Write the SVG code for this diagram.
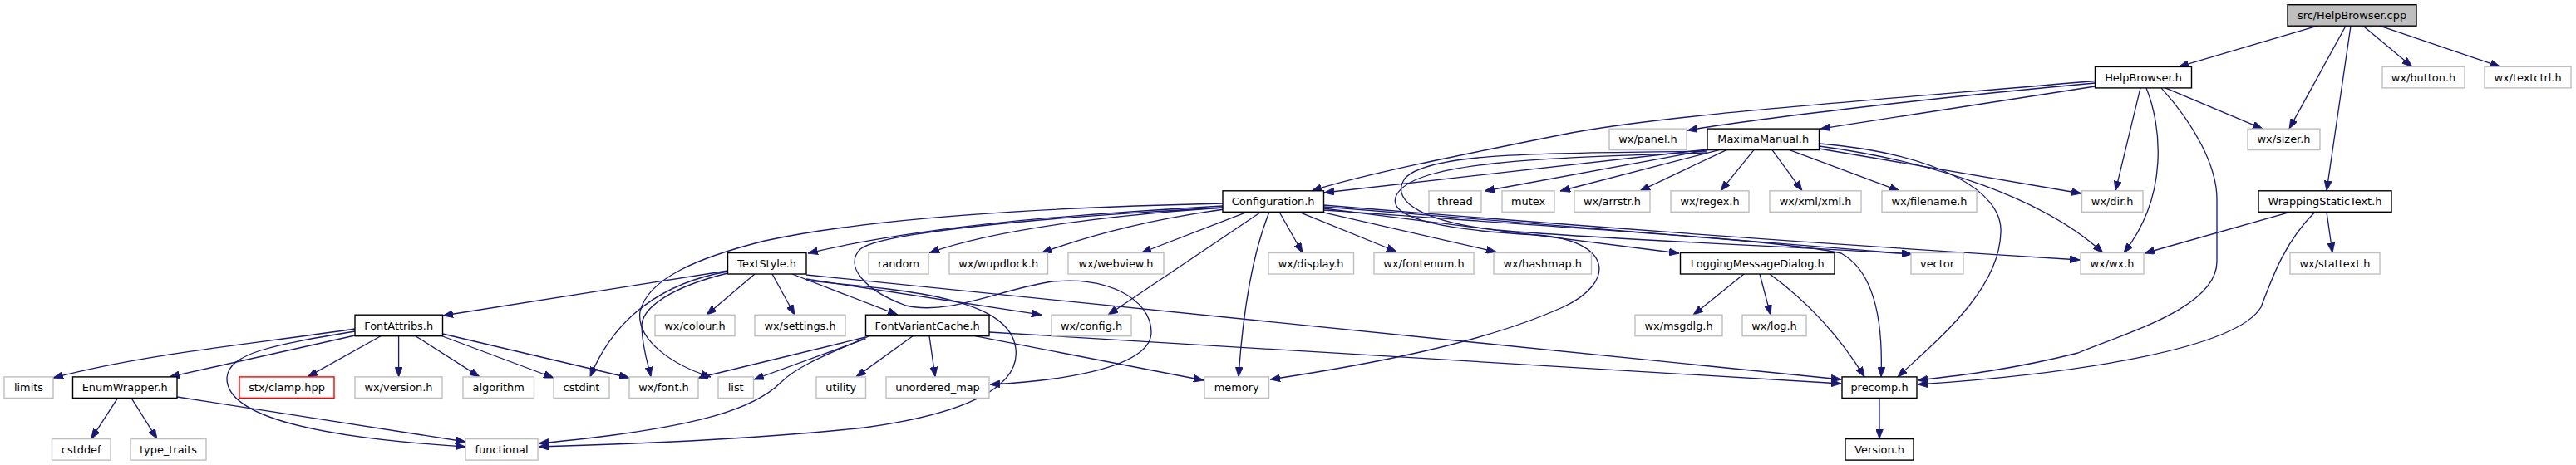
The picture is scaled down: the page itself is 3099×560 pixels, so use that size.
<svg xmlns="http://www.w3.org/2000/svg" width="3099" height="560" viewBox="0 0 3099 560">
<style>
.n rect{fill:#fff;stroke-width:1.4}
.doc rect{stroke:#000}
.ext rect{stroke:#bfbfbf}
.red rect{stroke:#ff0000}
.root rect{fill:#bfbfbf;stroke:#000}
.n text{font-family:"DejaVu Sans",sans-serif;font-size:12.9px;fill:#000;text-anchor:middle}
#edges path{fill:none;stroke:#191970;stroke-width:1.3;marker-end:url(#ah)}
</style>
<defs>
<marker id="ah" viewBox="0 0 12 9" refX="12" refY="4.5" markerWidth="12" markerHeight="9" markerUnits="userSpaceOnUse" orient="auto">
<path d="M0,0 L12,4.5 L0,9 z" fill="#191970" stroke="#191970" stroke-width="0.8"/>
</marker>
</defs>
<rect width="3099" height="560" fill="#fff"/>
<g id="edges">
<path d="M2788,31.2 L2621,80.4"/>
<path d="M2822,31.2 L2754,155.1"/>
<path d="M2828,31.2 L2799,229.8"/>
<path d="M2843,31.2 L2902,80.4"/>
<path d="M2863,31.2 L3008,80.4"/>
<path d="M2605,105.9 L2722,155.1"/>
<path d="M2575,105.9 L2545,229.8"/>
<path d="M2582,105.9 C2600,150 2610,235 2555,304.5"/>
<path d="M2600,105.9 C2640,150 2667,200 2667,240 L2667,315 C2667,370 2560,400 2500,425 C2420,445 2360,452 2307,458"/>
<path d="M2520.5,104 L2190,155.1"/>
<path d="M2520.5,100 C2300,120 2100,145 2030,157"/>
<path d="M2520.5,97.5 C2200,125 1990,140 1880,162 C1760,186 1640,210 1578,229.8"/>
<path d="M2110,180.6 L2070,229.8"/>
<path d="M2132,180.6 L2168,229.8"/>
<path d="M2153,180.6 L2285,229.8"/>
<path d="M2188.5,179 L2504,233"/>
<path d="M2188.5,176 C2330,195 2460,240 2530,304.5"/>
<path d="M2188.5,173 C2330,185 2410,230 2407,280 C2405,350 2330,410 2283,453.9"/>
<path d="M2054,180 L1593,232"/>
<path d="M2054,180.6 L1786,230"/>
<path d="M2068,180.6 L1877,230"/>
<path d="M2077,180.6 L1973,229.8"/>
<path d="M2054,182 C1900,185 1720,180 1690,215 C1670,245 1720,268 1800,277 C1950,290 2150,296 2300,306"/>
<path d="M2054,184 C1850,190 1700,195 1680,235 C1665,265 1750,278 1850,283 C1940,290 1945,340 1880,370 C1780,415 1640,440 1528,457"/>
<path d="M1471,248 C1300,258 1120,270 972,305"/>
<path d="M1471,245 C1250,250 1050,262 920,290 C840,310 780,335 770,375 C765,410 810,440 855,454"/>
<path d="M1471,250 C1250,262 1060,280 1035,300 C1015,320 1040,350 1090,368 C1140,380 1200,350 1260,340 C1330,330 1385,360 1385,400 C1385,440 1290,458 1191,463"/>
<path d="M1473,250 C1350,258 1200,275 1118,304.5"/>
<path d="M1473,252 C1400,262 1320,280 1253,304.5"/>
<path d="M1500,255.3 L1373,304.5"/>
<path d="M1517,255.3 L1333,379.2"/>
<path d="M1527,255.3 C1505,310 1495,380 1490,453.9"/>
<path d="M1539,255.3 L1567,304.5"/>
<path d="M1563,255.3 L1680,303"/>
<path d="M1590,255.3 L1800,303.5"/>
<path d="M1592.5,251 L2020,305"/>
<path d="M1592.5,249 L2300,306"/>
<path d="M1592.5,247 Q2050,285 2502,313"/>
<path d="M1592.5,253 C1900,275 2150,290 2215,305 C2260,330 2265,400 2263,453.9"/>
<path d="M2098,330 L2037,379.2"/>
<path d="M2117,330 L2130,379.2"/>
<path d="M2129,330 C2170,360 2210,400 2243,453.9"/>
<path d="M2799,255.3 L2806,304.5"/>
<path d="M2755,255.3 L2580,305"/>
<path d="M2785,255.3 C2750,290 2735,330 2720,370 C2690,420 2500,450 2307,463"/>
<path d="M875.5,326 L533,380"/>
<path d="M908,330 L850,379.2"/>
<path d="M929,330 L956,379.2"/>
<path d="M953,330 L1080,379.2"/>
<path d="M875.5,327 C800,340 740,380 710,453.9"/>
<path d="M875.5,329 C810,345 770,370 772,395 C773,420 780,440 783,453.9"/>
<path d="M970,336 L1253,379.2"/>
<path d="M970,331 L2215,457"/>
<path d="M970,338 C1100,350 1215,360 1222,420 C1228,470 1150,500 1040,515 C900,530 750,535 648,538"/>
<path d="M1098,404.7 L1030,453.9"/>
<path d="M1118,404.7 L1125,453.9"/>
<path d="M1173,404.7 L1448,458"/>
<path d="M1190,400 L2215,462"/>
<path d="M1041.5,406 L840,455"/>
<path d="M1041.5,408 L907,457"/>
<path d="M1045,405 C1000,425 960,440 940,460 C910,490 850,515 648,534"/>
<path d="M427,396 C300,415 180,425 64,455"/>
<path d="M427,404 L204,453.9"/>
<path d="M427,399 C330,415 275,425 273,455 C272,495 350,525 560,538"/>
<path d="M458,404.7 L370,453.9"/>
<path d="M479.6,404.7 L479.6,453.9"/>
<path d="M500,404.7 L577,453.9"/>
<path d="M532.5,405 L666,455"/>
<path d="M532.5,402 L757,455"/>
<path d="M141.6,479.3 L109.7,528.6"/>
<path d="M158,479.3 L189,528.6"/>
<path d="M213,478 L560,532"/>
<path d="M2261,479.3 L2261,528.6"/>
</g>
<g id="root" class="n root"><rect x="2752" y="5.7" width="155" height="25.5"/><text x="2829.5" y="23">src/HelpBrowser.cpp</text></g>
<g id="n_hb" class="n doc"><rect x="2520.5" y="80.4" width="116" height="25.5"/><text x="2578.5" y="97.7">HelpBrowser.h</text></g>
<g id="n_button" class="n ext"><rect x="2866" y="80.4" width="99" height="25.5"/><text x="2915.5" y="97.7">wx/button.h</text></g>
<g id="n_textctrl" class="n ext"><rect x="2989" y="80.4" width="104" height="25.5"/><text x="3041" y="97.7">wx/textctrl.h</text></g>
<g id="n_panel" class="n ext"><rect x="1936" y="155.1" width="93" height="25.5"/><text x="1982.5" y="172.4">wx/panel.h</text></g>
<g id="n_mm" class="n doc"><rect x="2054" y="155.1" width="134.5" height="25.5"/><text x="2121.2" y="172.4">MaximaManual.h</text></g>
<g id="n_sizer" class="n ext"><rect x="2704" y="155.1" width="87" height="25.5"/><text x="2747.5" y="172.4">wx/sizer.h</text></g>
<g id="n_config" class="n doc"><rect x="1471" y="229.8" width="121.5" height="25.5"/><text x="1531.7" y="247.1">Configuration.h</text></g>
<g id="n_thread" class="n ext"><rect x="1719" y="229.8" width="63" height="25.5"/><text x="1750.5" y="247.1">thread</text></g>
<g id="n_mutex" class="n ext"><rect x="1807" y="229.8" width="63" height="25.5"/><text x="1838.5" y="247.1">mutex</text></g>
<g id="n_arrstr" class="n ext"><rect x="1894" y="229.8" width="91" height="25.5"/><text x="1939.5" y="247.1">wx/arrstr.h</text></g>
<g id="n_regex" class="n ext"><rect x="2010" y="229.8" width="94" height="25.5"/><text x="2057" y="247.1">wx/regex.h</text></g>
<g id="n_xml" class="n ext"><rect x="2129" y="229.8" width="110" height="25.5"/><text x="2184" y="247.1">wx/xml/xml.h</text></g>
<g id="n_filename" class="n ext"><rect x="2264" y="229.8" width="114" height="25.5"/><text x="2321" y="247.1">wx/filename.h</text></g>
<g id="n_dir" class="n ext"><rect x="2504.5" y="229.8" width="73.5" height="25.5"/><text x="2541.2" y="247.1">wx/dir.h</text></g>
<g id="n_wst" class="n doc"><rect x="2717" y="229.8" width="160" height="25.5"/><text x="2797" y="247.1">WrappingStaticText.h</text></g>
<g id="n_textstyle" class="n doc"><rect x="875.5" y="304.5" width="94.5" height="25.5"/><text x="922.7" y="321.8">TextStyle.h</text></g>
<g id="n_random" class="n ext"><rect x="1045" y="304.5" width="72" height="25.5"/><text x="1081" y="321.8">random</text></g>
<g id="n_wupdlock" class="n ext"><rect x="1142" y="304.5" width="118.5" height="25.5"/><text x="1201.2" y="321.8">wx/wupdlock.h</text></g>
<g id="n_webview" class="n ext"><rect x="1285" y="304.5" width="115" height="25.5"/><text x="1342.5" y="321.8">wx/webview.h</text></g>
<g id="n_display" class="n ext"><rect x="1526" y="304.5" width="102.5" height="25.5"/><text x="1577.2" y="321.8">wx/display.h</text></g>
<g id="n_fontenum" class="n ext"><rect x="1653" y="304.5" width="120" height="25.5"/><text x="1713" y="321.8">wx/fontenum.h</text></g>
<g id="n_hashmap" class="n ext"><rect x="1797" y="304.5" width="117.5" height="25.5"/><text x="1855.7" y="321.8">wx/hashmap.h</text></g>
<g id="n_lmd" class="n doc"><rect x="2021.5" y="304.5" width="185.5" height="25.5"/><text x="2114.2" y="321.8">LoggingMessageDialog.h</text></g>
<g id="n_vector" class="n ext"><rect x="2299" y="304.5" width="63" height="25.5"/><text x="2330.5" y="321.8">vector</text></g>
<g id="n_wx" class="n ext"><rect x="2503" y="304.5" width="76" height="25.5"/><text x="2541" y="321.8">wx/wx.h</text></g>
<g id="n_stattext" class="n ext"><rect x="2755" y="304.5" width="108" height="25.5"/><text x="2809" y="321.8">wx/stattext.h</text></g>
<g id="n_fontattribs" class="n doc"><rect x="427" y="379.2" width="105.5" height="25.5"/><text x="479.7" y="396.5">FontAttribs.h</text></g>
<g id="n_colour" class="n ext"><rect x="788" y="379.2" width="96" height="25.5"/><text x="836" y="396.5">wx/colour.h</text></g>
<g id="n_settings" class="n ext"><rect x="908" y="379.2" width="109" height="25.5"/><text x="962.5" y="396.5">wx/settings.h</text></g>
<g id="n_fvc" class="n doc"><rect x="1041.5" y="379.2" width="148.5" height="25.5"/><text x="1115.7" y="396.5">FontVariantCache.h</text></g>
<g id="n_wxconfig" class="n ext"><rect x="1265" y="379.2" width="96" height="25.5"/><text x="1313" y="396.5">wx/config.h</text></g>
<g id="n_msgdlg" class="n ext"><rect x="1967" y="379.2" width="105" height="25.5"/><text x="2019.5" y="396.5">wx/msgdlg.h</text></g>
<g id="n_log" class="n ext"><rect x="2096" y="379.2" width="77" height="25.5"/><text x="2134.5" y="396.5">wx/log.h</text></g>
<g id="n_limits" class="n ext"><rect x="5" y="453.9" width="59" height="25.5"/><text x="34.5" y="471.2">limits</text></g>
<g id="n_enum" class="n doc"><rect x="87.5" y="453.9" width="125.5" height="25.5"/><text x="150.2" y="471.2">EnumWrapper.h</text></g>
<g id="n_clamp" class="n red"><rect x="288" y="453.9" width="114" height="25.5"/><text x="345" y="471.2">stx/clamp.hpp</text></g>
<g id="n_version" class="n ext"><rect x="427" y="453.9" width="105" height="25.5"/><text x="479.5" y="471.2">wx/version.h</text></g>
<g id="n_algorithm" class="n ext"><rect x="557" y="453.9" width="85.5" height="25.5"/><text x="599.7" y="471.2">algorithm</text></g>
<g id="n_cstdint" class="n ext"><rect x="666" y="453.9" width="67" height="25.5"/><text x="699.5" y="471.2">cstdint</text></g>
<g id="n_font" class="n ext"><rect x="757" y="453.9" width="83" height="25.5"/><text x="798.5" y="471.2">wx/font.h</text></g>
<g id="n_list" class="n ext"><rect x="864" y="453.9" width="42.5" height="25.5"/><text x="885.2" y="471.2">list</text></g>
<g id="n_utility" class="n ext"><rect x="982" y="453.9" width="59.5" height="25.5"/><text x="1011.7" y="471.2">utility</text></g>
<g id="n_umap" class="n ext"><rect x="1066" y="453.9" width="124" height="25.5"/><text x="1128" y="471.2">unordered_map</text></g>
<g id="n_memory" class="n ext"><rect x="1449" y="453.9" width="77.5" height="25.5"/><text x="1487.7" y="471.2">memory</text></g>
<g id="n_precomp" class="n doc"><rect x="2216" y="453.9" width="90" height="25.5"/><text x="2261" y="471.2">precomp.h</text></g>
<g id="n_cstddef" class="n ext"><rect x="62.5" y="528.6" width="70.5" height="25.5"/><text x="97.7" y="545.9">cstddef</text></g>
<g id="n_typetraits" class="n ext"><rect x="157" y="528.6" width="91" height="25.5"/><text x="202.5" y="545.9">type_traits</text></g>
<g id="n_functional" class="n ext"><rect x="560" y="528.6" width="87" height="25.5"/><text x="603.5" y="545.9">functional</text></g>
<g id="n_versionh" class="n doc"><rect x="2220" y="528.6" width="82" height="25.5"/><text x="2261" y="545.9">Version.h</text></g>
</svg>
